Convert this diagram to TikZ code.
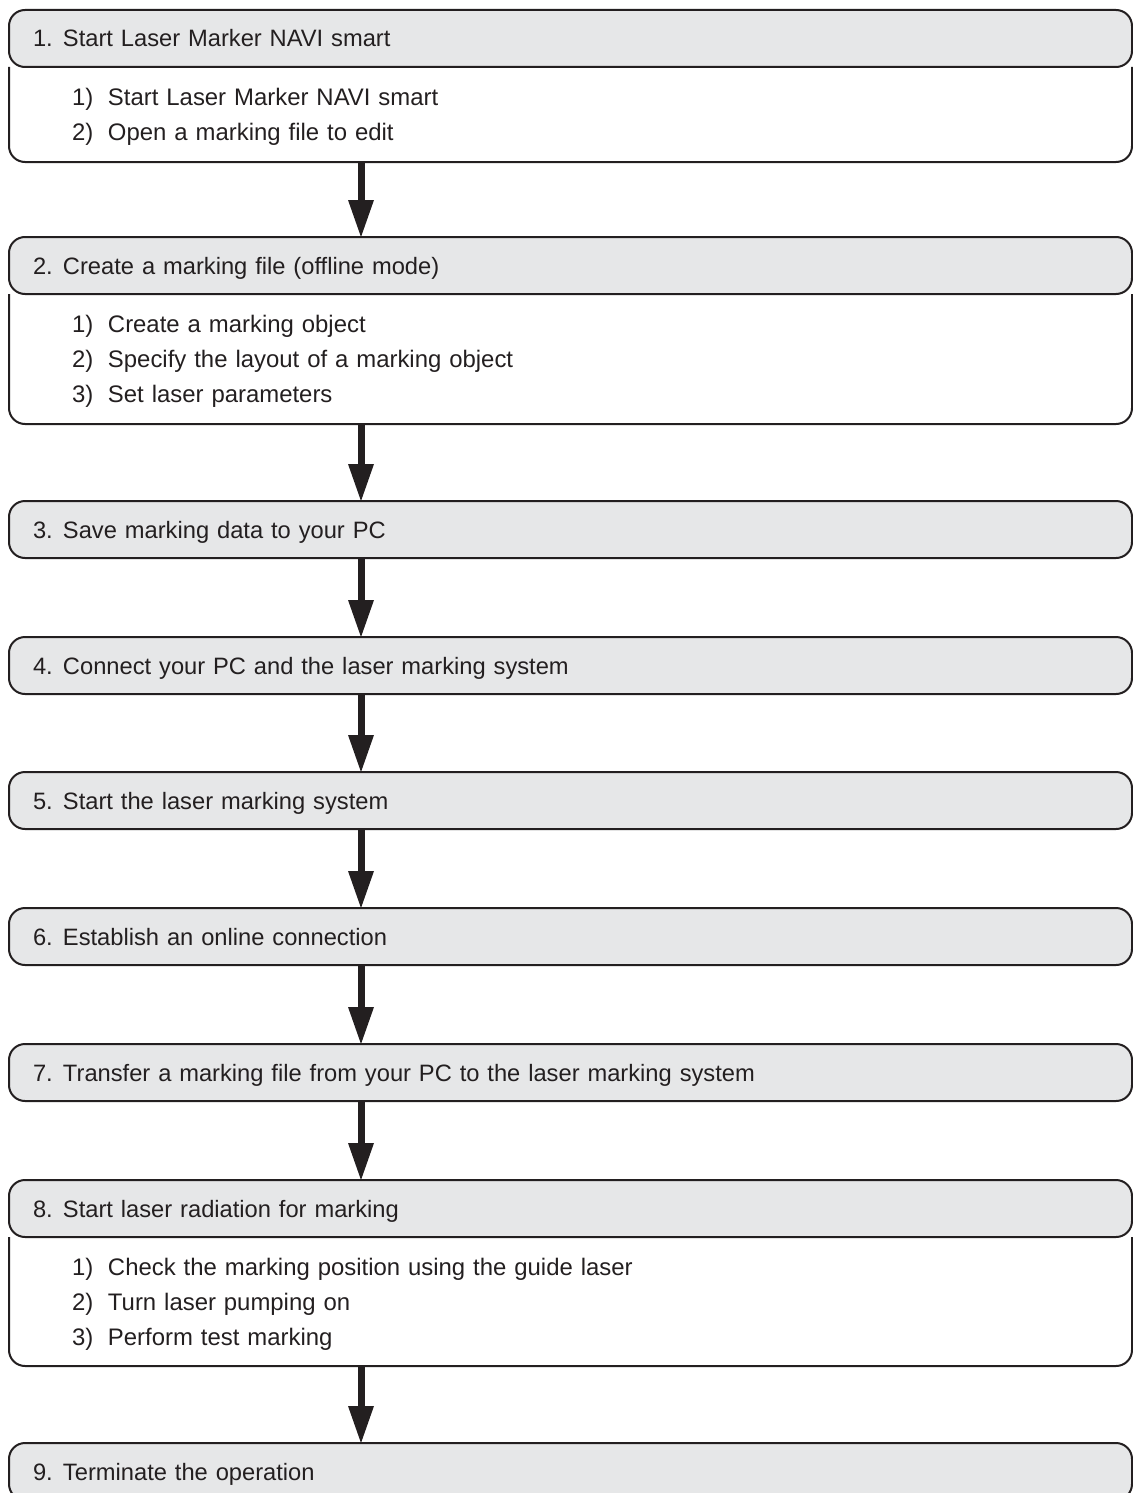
\documentclass[tikz,border=0pt]{standalone}
\usepackage{fontspec}
\setmainfont{Liberation Sans}
\usetikzlibrary{arrows.meta}
\definecolor{boxline}{HTML}{231F20}
\definecolor{boxfill}{HTML}{E6E7E8}
\newcommand{\hdrnum}[1]{\makebox[15pt][l]{#1}}
\newcommand{\subnum}[1]{\makebox[18pt][l]{#1}}

\begin{document}
\begin{tikzpicture}[x=0.5pt,y=-0.5pt,
  hdrstyle/.style={rectangle,draw=boxline,fill=boxfill,line width=1pt,rounded corners=8pt,outer sep=0pt,
    minimum width=561.5pt,minimum height=28.5pt,inner xsep=12pt,inner ysep=0pt,text width=537.5pt,
    align=left,text height=8.5pt,text depth=0pt,anchor=north west,font=\fontsize{11.85}{14}\selectfont,text=boxline},
  bodystyle/.style={rectangle,outer sep=0pt,minimum width=561.5pt,inner xsep=31.5pt,inner ysep=0pt,
    text width=498.5pt,align=left,text height=8.6pt,anchor=north west,font=\fontsize{11.95}{17.5}\selectfont,text=boxline},
  bodyline/.style={draw=boxline,line width=1pt,rounded corners=8pt},
  flowarrow/.style={draw=boxline,line width=3.5pt,-{Triangle[width=13pt,length=18.5pt,line width=0pt]}}]

  \useasboundingbox (0,0) rectangle (1133,1493);
  \clip (0,0) rectangle (1133,1493);
  \coordinate (ax) at (361,0);

  % headers
  \node [hdrstyle] (h1) at (9, 10) {\hdrnum{1.}Start Laser Marker NAVI smart};
  \node [hdrstyle] (h2) at (9, 237) {\hdrnum{2.}Create a marking file (offline mode)};
  \node [hdrstyle] (h3) at (9, 501) {\hdrnum{3.}Save marking data to your PC};
  \node [hdrstyle] (h4) at (9, 637) {\hdrnum{4.}Connect your PC and the laser marking system};
  \node [hdrstyle] (h5) at (9, 772) {\hdrnum{5.}Start the laser marking system};
  \node [hdrstyle] (h6) at (9, 908) {\hdrnum{6.}Establish an online connection};
  \node [hdrstyle] (h7) at (9, 1044) {\hdrnum{7.}Transfer a marking file from your PC to the laser marking system};
  \node [hdrstyle] (h8) at (9, 1180) {\hdrnum{8.}Start laser radiation for marking};
  \node [hdrstyle] (h9) at (9, 1443) {\hdrnum{9.}Terminate the operation};

  % sub steps
  \node [bodystyle, minimum height=47.5pt, text depth=17.5pt] (b1) at (h1.south west)
    {\subnum{1)}Start Laser Marker NAVI smart\\\subnum{2)}Open a marking file to edit};
  \node [bodystyle, minimum height=65pt, text depth=35pt] (b2) at (h2.south west)
    {\subnum{1)}Create a marking object\\\subnum{2)}Specify the layout of a marking object\\\subnum{3)}Set laser parameters};
  \node [bodystyle, minimum height=64.5pt, text depth=35pt] (b8) at (h8.south west)
    {\subnum{1)}Check the marking position using the guide laser\\\subnum{2)}Turn laser pumping on\\\subnum{3)}Perform test marking};
  \foreach \b in {b1,b2,b8} {
    \draw [bodyline] (\b.north west) -- (\b.south west) -- (\b.south east) -- (\b.north east);
  }

  % arrows
  \draw [flowarrow] (b1.south -| ax) -- (h2.north -| ax);
  \draw [flowarrow] (b2.south -| ax) -- (h3.north -| ax);
  \draw [flowarrow] (h3.south -| ax) -- (h4.north -| ax);
  \draw [flowarrow] (h4.south -| ax) -- (h5.north -| ax);
  \draw [flowarrow] (h5.south -| ax) -- (h6.north -| ax);
  \draw [flowarrow] (h6.south -| ax) -- (h7.north -| ax);
  \draw [flowarrow] (h7.south -| ax) -- (h8.north -| ax);
  \draw [flowarrow] (b8.south -| ax) -- (h9.north -| ax);

\end{tikzpicture}
\end{document}
